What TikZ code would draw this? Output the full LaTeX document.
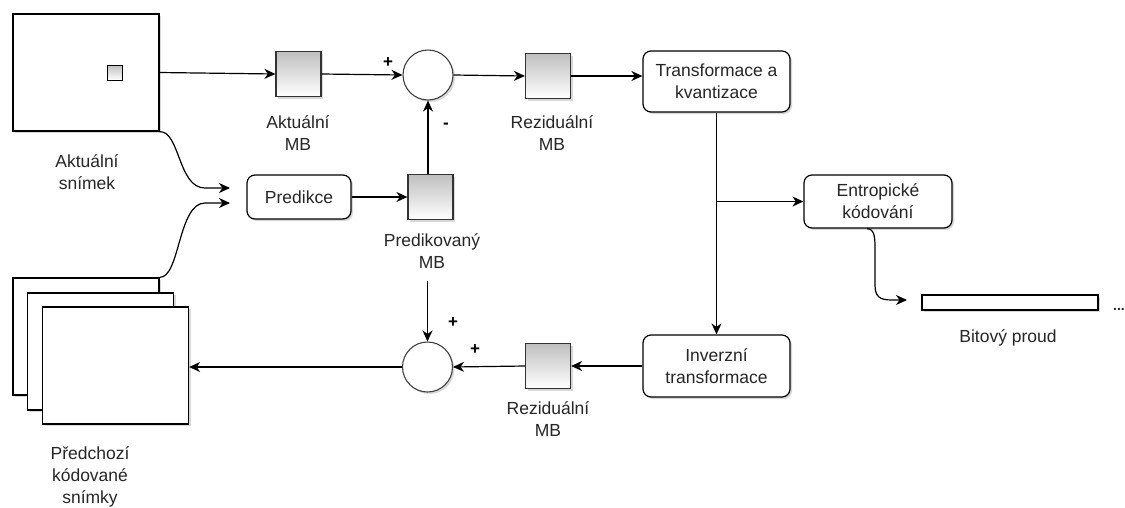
\documentclass[tikz,border=0pt]{standalone}
\usepackage{fontspec}
\setmainfont{Liberation Sans}
\usetikzlibrary{arrows.meta,shadows,calc}
\begin{document}
\begin{tikzpicture}[x=1pt,y=-1pt,
  every node/.style={font=\fontsize{17.5}{22}\selectfont, text=black!85},
  shad/.style={drop shadow={shadow xshift=2pt,shadow yshift=-2pt,fill=black!30,opacity=0.5}},
  frame/.style={draw=black, line width=1.3pt, fill=white, minimum width=146pt, minimum height=117pt, inner sep=0pt, shad},
  mb/.style={draw=black!80, line width=1.2pt, top color=black!25, bottom color=white, minimum size=45pt, inner sep=0pt, shad},
  proc/.style={draw=black, line width=1.2pt, rounded corners=8pt, fill=white, align=center, inner sep=0pt, shad},
  sumc/.style={circle, draw=black!75, line width=1.1pt, fill=white, minimum size=50pt, inner sep=0pt, shad},
  lbl/.style={align=center, inner sep=0pt},
  sgn/.style={font=\fontsize{17}{17}\selectfont\bfseries, text=black, inner sep=0pt},
  arr/.style={line width=1.2pt, -{Stealth[length=11pt,width=10pt,inset=3.5pt]}},
]
\useasboundingbox (0,0) rectangle (1125,507);

% current frame
\node[frame] (snimek) at (86,72.5) {};
\node[draw=black, line width=1pt, top color=black!25, bottom color=white, minimum size=15pt, inner sep=0pt] (blk) at (115,72.5) {};
\node[lbl] (lsnimek) at (87,172) {Aktuální\\snímek};

% previous frames
\node[frame] (f1) at (86,336.5) {};
\node[frame] (f2) at (100.5,351.5) {};
\node[frame] (f3) at (115.5,365.5) {};
\node[lbl] (lprev) at (90,477) {Předchozí\\kódované\\snímky};

% top row
\node[mb] (akt) at (298.5,74) {};
\node[lbl] (lakt) at (298,133) {Aktuální\\MB};
\node[sumc] (s1) at (428,75) {};
\node[mb] (res1) at (548,76) {};
\node[lbl] (lres1) at (552,133) {Reziduální\\MB};
\node[proc, minimum width=147pt, minimum height=61pt] (tq) at (716.5,81.5) {Transformace a\\kvantizace};

% prediction row
\node[proc, minimum width=104pt, minimum height=44pt] (pred) at (299,197) {Predikce};
\node[mb] (pmb) at (430.5,197) {};
\node[lbl] (lpmb) at (432,251) {Predikovaný\\MB};
\node[proc, minimum width=148pt, minimum height=53pt] (ent) at (878,201.5) {Entropické\\kódování};

% bitstream
\node[draw=black, line width=1.2pt, fill=white, minimum width=176pt, minimum height=15pt, inner sep=0pt, shad] (bits) at (1010,302.5) {};
\node[font=\fontsize{14}{14}\selectfont\bfseries, inner sep=0pt] (dots) at (1119,309) {...};
\node[lbl] (lbits) at (1008,338) {Bitový proud};

% bottom row
\node[proc, minimum width=147pt, minimum height=62pt] (inv) at (716.5,366) {Inverzní\\transformace};
\node[mb] (res2) at (548,366) {};
\node[lbl] (lres2) at (548,419) {Reziduální\\MB};
\node[sumc] (s2) at (427.5,367) {};

% signs
\node[sgn] (p1) at (388,63) {+};
\node[sgn] (m1) at (446,126) {-};
\node[sgn] (p2) at (453,323) {+};
\node[sgn] (p3) at (475,350) {+};

% helper coordinates
\coordinate (in1) at (230,188);
\coordinate (in2) at (230,203);
\coordinate (pmout) at (427.5,281);
\coordinate (bitin) at (907,300);
\coordinate (eout) at ($(ent.south)+(-11,0)$);
\coordinate (br) at (tq.south |- ent.west);

% connectors
\draw[arr] (snimek.east) -- (akt.west);
\draw[arr] (akt.east) -- (s1.west);
\draw[arr] (s1.east) -- (res1.west);
\draw[arr] (res1.east) -- (res1.east -| tq.west);
\draw[arr] (pred.east) -- (pmb.west);
\draw[arr] (s1.south |- pmb.north) -- (s1.south);
\draw[arr] (snimek.south east) .. controls (180,131) and (178,188) .. (205,188) -- (in1);
\draw[arr] (f1.north east) .. controls (180,278) and (178,203) .. (205,203) -- (in2);
\draw[arr] (tq.south) -- (inv.north);
\draw[arr] (br) -- (ent.west);
\draw[arr] (eout) .. controls (875,229) and (875,238) .. (875,250) -- (875,285) .. controls (875,297) and (880,300) .. (892,300) -- (bitin);
\draw[arr] (inv.west) -- (res2.east);
\draw[arr] (res2.west) -- (s2.east);
\draw[arr] (pmout) -- (s2.north);
\draw[arr] (s2.west) -- (s2.west -| f3.east);
\end{tikzpicture}
\end{document}
